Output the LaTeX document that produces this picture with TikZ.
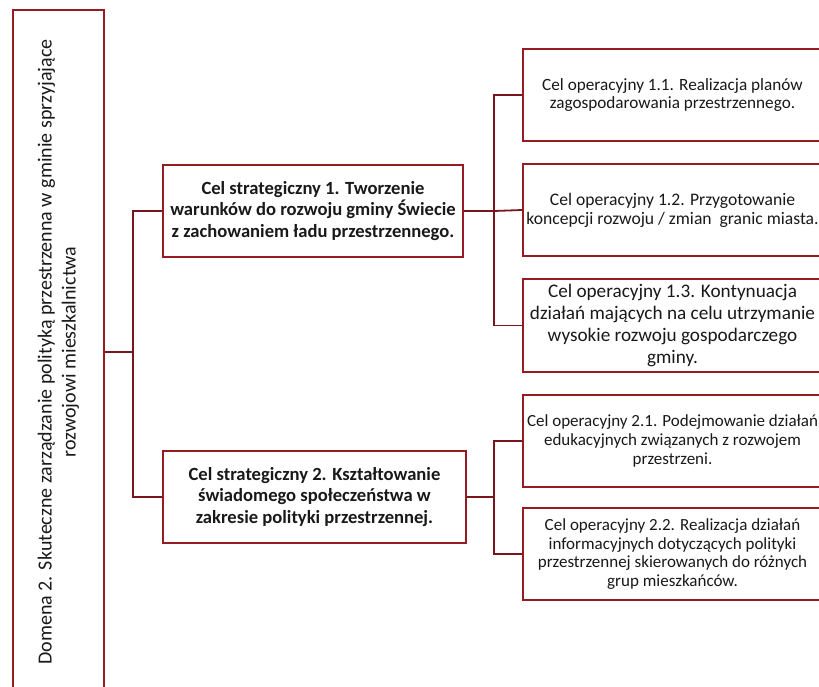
\documentclass[tikz,border=0pt]{standalone}
\usepackage{fontspec}
\setmainfont{Carlito}
\definecolor{boxred}{RGB}{150,28,36}
\begin{document}
\begin{tikzpicture}[x=1pt,y=-1pt,
  box/.style={draw=boxred,line width=1.8pt,rectangle,align=center,inner sep=0pt,text=black!90},
  conn/.style={draw=boxred!80!black,line width=1.8pt},
  strat/.style={box,minimum width=300pt,minimum height=92pt,font=\bfseries\fontsize{18.6}{21.5}\selectfont},
  oper/.style={box,minimum width=299pt,minimum height=92pt}
]
\useasboundingbox (0,0) rectangle (819,687);
\clip (0,0) rectangle (819,687);
\fill[white] (0,0) rectangle (819,687);
% domain box
\node[box,rotate=90,minimum width=684pt,minimum height=91pt,font=\fontsize{20}{24}\selectfont] (dom) at (58.5,352)
  {Domena 2. Skuteczne zarządzanie polityką przestrzenna w gminie sprzyjające\\rozwojowi mieszkalnictwa};
% strategic
\node[strat] (s1) at (313,211) {Cel strategiczny 1. Tworzenie\\warunków do rozwoju gminy Świecie\\z zachowaniem ładu przestrzennego.};
\node[strat,minimum width=303pt] (s2) at (314.5,497) {Cel strategiczny 2. Kształtowanie\\świadomego społeczeństwa w\\zakresie polityki przestrzennej.};
% operational
\node[oper,font=\fontsize{17.2}{18}\selectfont] (o11) at (672.5,95) {Cel operacyjny 1.1. Realizacja planów\\zagospodarowania przestrzennego.};
\node[oper,font=\fontsize{17.6}{19}\selectfont] (o12) at (672.5,210) {Cel operacyjny 1.2. Przygotowanie\\koncepcji rozwoju / zmian\ \ granic miasta.};
\node[oper,minimum height=93pt,font=\fontsize{19.2}{22}\selectfont] (o13) at (672.5,325.5) {Cel operacyjny 1.3. Kontynuacja\\działań mających na celu utrzymanie\\wysokie rozwoju gospodarczego\\gminy.};
\node[oper,font=\fontsize{17}{19}\selectfont] (o21) at (672.5,441) {Cel operacyjny 2.1. Podejmowanie działań\\edukacyjnych związanych z rozwojem\\przestrzeni.};
\node[oper,font=\fontsize{17}{18.5}\selectfont] (o22) at (672.5,554) {Cel operacyjny 2.2. Realizacja działań\\informacyjnych dotyczących polityki\\przestrzennej skierowanych do różnych\\grup mieszkańców.};
% junctions
\coordinate (j1) at (133,352);
\coordinate (j2) at (494,211);
\coordinate (j3) at (494,497);
\draw[conn] (dom.south) -- (j1);
\draw[conn] (s1.west) -| (j1) |- (s2.west);
\draw[conn] (s1.east) -- (j2);
\draw[conn] (o11.west) -| (j2) |- (o13.west);
\draw[conn] (j2) -- (o12.west);
\draw[conn] (s2.east) -- (j3);
\draw[conn] (o21.west) -| (j3) |- (o22.west);
\end{tikzpicture}
\end{document}
